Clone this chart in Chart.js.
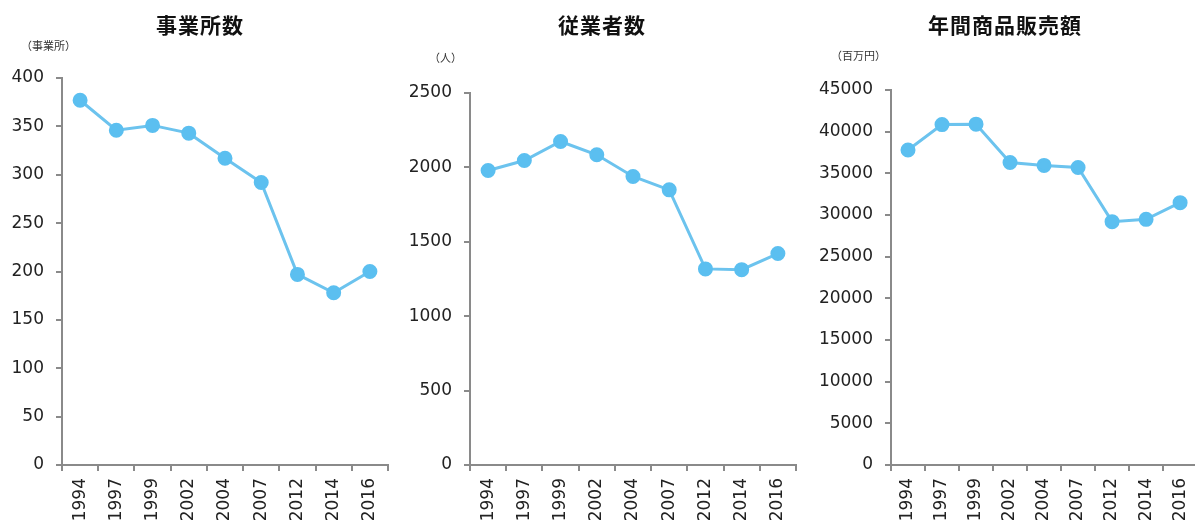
<!DOCTYPE html>
<html><head><meta charset="utf-8">
<script src="https://cdn.jsdelivr.net/npm/chart.js@4/dist/chart.umd.min.js"></script>
<style>
html,body{margin:0;padding:0;background:#fff;overflow:hidden;width:1195px;height:521px;}
.box{position:absolute;top:0;height:521px;}
.ttl{position:absolute;font-family:"Noto Sans CJK JP","Noto Sans CJK SC",sans-serif;font-weight:bold;font-size:21px;color:#111;transform:translateX(-50%);white-space:nowrap;letter-spacing:1px;}
.unit{position:absolute;font-family:"Noto Sans CJK JP",sans-serif;font-size:11px;color:#333;white-space:nowrap;}
</style></head><body>
<div class="box" style="left:0;width:400px"><canvas id="c1"></canvas></div>
<div class="box" style="left:400px;width:410px"><canvas id="c2"></canvas></div>
<div class="box" style="left:810px;width:398px"><canvas id="c3"></canvas></div>
<div class="ttl" style="left:200px;top:9px">事業所数</div>
<div class="ttl" style="left:602px;top:9px">従業者数</div>
<div class="ttl" style="left:1005px;top:9px">年間商品販売額</div>
<div class="unit" style="left:21px;top:37px">（事業所）</div>
<div class="unit" style="left:429px;top:49px">（人）</div>
<div class="unit" style="left:831px;top:47px">（百万円）</div>
<script>
const years = ['1994','1997','1999','2002','2004','2007','2012','2014','2016'];
const establishments = [377, 346, 351, 343, 317, 292, 197, 178, 200];
const employees = [1979, 2046, 2174, 2085, 1939, 1849, 1318, 1313, 1421];
const sales = [37800, 40850, 40900, 36300, 35950, 35700, 29200, 29480, 31480];
const yMax1 = 400, yStep1 = 50;
const yMax2 = 2500, yStep2 = 500;
const yMax3 = 45000, yStep3 = 5000;

function make(id, data, max, step, w, yW, padTop, padRight){
  const el = document.getElementById(id);
  el.width = w; el.height = 521;
  el.style.width = w + 'px'; el.style.height = '521px';
  return new Chart(el, {
    type: 'line',
    data: { labels: years, datasets: [{
      data: data,
      borderColor: '#6cc3ee',
      backgroundColor: '#5bbff0',
      pointBackgroundColor: '#5bbff0',
      pointBorderColor: '#5bbff0',
      borderWidth: 3,
      pointRadius: 6,
      tension: 0
    }]},
    options: {
      responsive: false,
      animation: false,
      devicePixelRatio: 1,
      layout: { padding: { top: padTop, right: padRight, left: 0, bottom: 0 } },
      plugins: { legend: { display: false }, title: { display: false }, tooltip: { enabled: false } },
      scales: {
        x: {
          offset: true,
          grid: { offset: true, drawOnChartArea: false, drawTicks: true, tickLength: 6, color: '#8a8a8a', lineWidth: 2 },
          border: { color: '#8a8a8a', width: 2 },
          ticks: { color: '#222', font: { family: 'DejaVu Sans', size: 17 }, minRotation: 90, maxRotation: 90, padding: 7, autoSkip: false },
          afterFit(a){ a.height = 56; }
        },
        y: {
          min: 0, max: max,
          grid: { drawOnChartArea: false, drawTicks: true, tickLength: 6, color: '#8a8a8a', lineWidth: 2 },
          border: { color: '#8a8a8a', width: 2 },
          ticks: { stepSize: step, color: '#222', font: { family: 'DejaVu Sans', size: 17 }, padding: 12,
                   callback: v => String(v) },
          afterFit(a){ a.width = yW; }
        }
      }
    }
  });
}
make('c1', establishments, yMax1, yStep1, 400, 62, 78, 12);
make('c2', employees, yMax2, yStep2, 410, 70, 93, 14);
make('c3', sales, yMax3, yStep3, 398, 81, 90, 0);
</script>
</body></html>
